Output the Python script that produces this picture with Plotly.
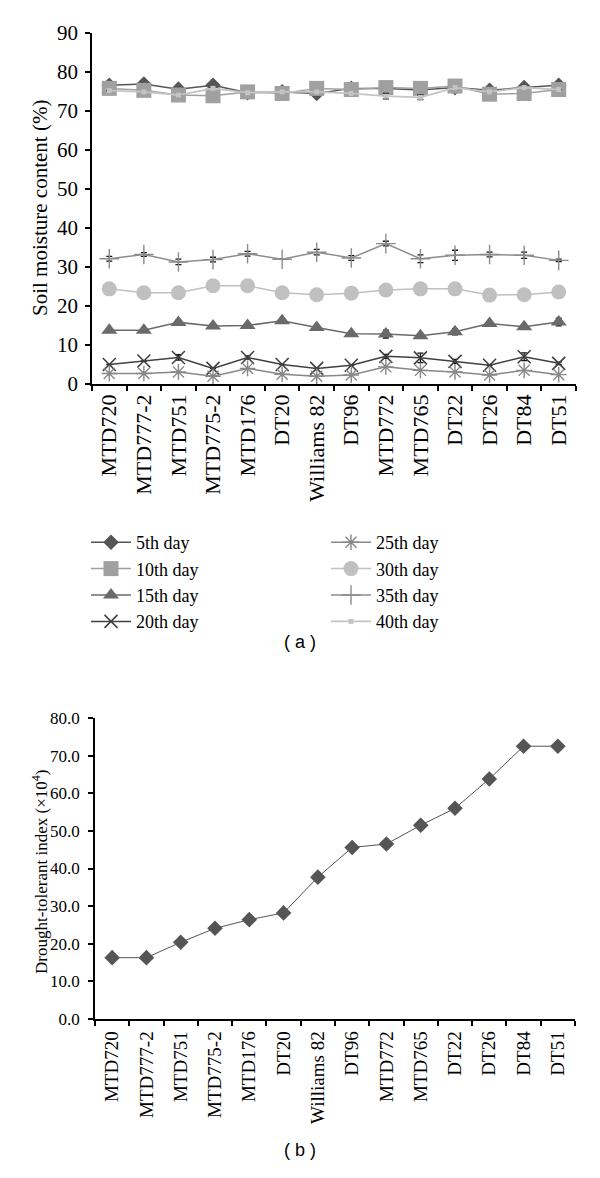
import plotly.graph_objects as go

# ---------------- data ----------------
cultivars = ["MTD720", "MTD777-2", "MTD751", "MTD775-2", "MTD176", "DT20", "Williams 82",
             "DT96", "MTD772", "MTD765", "DT22", "DT26", "DT84", "DT51"]

day5 = [76.6, 76.9, 75.6, 76.6, 74.7, 74.9, 74.5, 75.8, 75.8, 75.4, 76.0, 75.3, 76.0, 76.6]
day10 = [75.8, 75.3, 74.1, 73.9, 74.9, 74.5, 75.8, 75.5, 76.0, 75.8, 76.4, 74.3, 74.5, 75.5]
day15 = [13.8, 13.8, 15.8, 14.9, 15.0, 16.2, 14.5, 12.9, 12.8, 12.4, 13.4, 15.5, 14.7, 15.9]
day20 = [5.0, 5.9, 6.8, 4.0, 6.8, 5.0, 4.0, 4.8, 7.1, 6.7, 5.8, 4.8, 7.0, 5.3]
day25 = [2.7, 2.7, 3.1, 2.0, 4.0, 2.5, 2.0, 2.3, 4.4, 3.5, 3.1, 2.3, 3.5, 2.4]
day30 = [24.4, 23.4, 23.4, 25.2, 25.2, 23.4, 22.9, 23.3, 24.1, 24.4, 24.4, 22.8, 22.9, 23.6]
day35 = [32.1, 33.2, 31.3, 31.9, 33.4, 32.0, 33.8, 32.3, 36.0, 32.1, 33.0, 33.2, 33.0, 31.7]
day40 = [75.2, 74.9, 74.1, 75.8, 74.7, 74.9, 74.9, 74.5, 73.8, 73.5, 76.0, 74.9, 76.0, 75.5]

err5 = [0.8, 0, 0, 0, 0, 0, 0, 0.3, 0, 0.8, 0, 0, 0.5, 0.3]
err15 = [0, 0, 0.5, 0.4, 0.3, 0.4, 0, 0, 1.0, 0.4, 0.8, 0.3, 0, 1.0]
err20 = [0, 0, 0.7, 0, 0.4, 0, 0, 0, 0.5, 1.2, 0.5, 0, 1.0, 0.3]
err35 = [0.6, 0.5, 0.7, 0.6, 0.6, 0, 0.7, 0.6, 0.6, 1.0, 1.3, 0.6, 0.8, 0.3]
err40 = [0, 0, 0, 0, 0, 0, 0, 0, 0.7, 0.6, 0, 0, 0, 0]

dti = [16.3, 16.3, 20.4, 24.1, 26.4, 28.2, 37.7, 45.6, 46.5, 51.5, 56.0, 63.8, 72.5, 72.5]

series_names = ["5th day", "10th day", "15th day", "20th day",
                "25th day", "30th day", "35th day", "40th day"]
y_ticks_a = [0, 10, 20, 30, 40, 50, 60, 70, 80, 90]
y_ticks_b = [0, 10, 20, 30, 40, 50, 60, 70, 80]

# ---------------- styles ----------------
SERIF = "Liberation Serif, Tinos, Times New Roman, DejaVu Serif, serif"
styles = {
    "5th day":  dict(color="#555555", symbol="diamond", size=12, lw=1.5, mlw=0, legend="legend"),
    "10th day": dict(color="#a0a0a0", symbol="square", size=15, lw=1.5, mlw=0, legend="legend"),
    "15th day": dict(color="#6a6a6a", symbol="triangle-up", size=14, lw=1.5, mlw=0, legend="legend"),
    "20th day": dict(color="#404040", symbol="x-thin-open", size=13, lw=1.5, mlw=1.6, legend="legend"),
    "25th day": dict(color="#888888", symbol="asterisk-open", size=13, lw=1.5, mlw=1.4, legend="legend2"),
    "30th day": dict(color="#c0c0c0", symbol="circle", size=15, lw=1.5, mlw=0, legend="legend2"),
    "35th day": dict(color="#8c8c8c", symbol="cross-thin-open", size=14, lw=1.5, mlw=1.4, legend="legend2"),
    "40th day": dict(color="#c4c4c4", symbol="square", size=5, lw=1.8, mlw=0, legend="legend2"),
}
values = {"5th day": day5, "10th day": day10, "15th day": day15, "20th day": day20,
          "25th day": day25, "30th day": day30, "35th day": day35, "40th day": day40}
errors = {"5th day": err5, "15th day": err15, "20th day": err20, "35th day": err35, "40th day": err40}

fig = go.Figure()

for name in series_names:
    st = styles[name]
    err = errors.get(name)
    fig.add_trace(go.Scatter(
        x=cultivars, y=values[name], name=name, mode="lines+markers",
        line=dict(color=st["color"], width=st["lw"]),
        marker=dict(symbol=st["symbol"], size=st["size"], color=st["color"],
                    line=dict(color=st["color"], width=st["mlw"])),
        error_y=dict(type="data", array=err, visible=True, color="#111111",
                     thickness=1.3, width=3) if err else None,
        xaxis="x", yaxis="y", legend=st["legend"],
    ))

fig.add_trace(go.Scatter(
    x=cultivars, y=dti, mode="lines+markers", showlegend=False,
    line=dict(color="#555555", width=1),
    marker=dict(symbol="diamond", size=12, color="#555555"),
    xaxis="x2", yaxis="y2",
))

# page has an 8px body margin; figure coords = page coords - 8
OFF = 8
W, H = 584, 1162


def px_x(p):
    return (p - OFF) / W


def px_y(p):
    return 1 - (p - OFF) / H


axis_common = dict(showline=True, linecolor="black", linewidth=1.5, ticks="outside",
                   tickcolor="black", ticklen=5, tickwidth=1.5, showgrid=False,
                   zeroline=False, mirror=False)

fig.update_layout(
    width=W, height=H, paper_bgcolor="white", plot_bgcolor="white",
    margin=dict(l=0, r=0, t=0, b=0),
    font=dict(family=SERIF, color="black"),
    xaxis=dict(domain=[px_x(92), px_x(576)], anchor="y", type="category",
               range=[-0.5, 13.5], tickson="boundaries", tickangle=-90,
               tickfont=dict(size=22, family=SERIF), automargin=False, **axis_common),
    yaxis=dict(domain=[px_y(384), px_y(33)], anchor="x", range=[0, 90],
               tickvals=y_ticks_a, tickfont=dict(size=21, family=SERIF),
               ticklabelstandoff=3, automargin=False, **axis_common),
    xaxis2=dict(domain=[px_x(95), px_x(575)], anchor="y2", type="category",
                range=[-0.5, 13.5], tickson="boundaries", tickangle=-90,
                tickfont=dict(size=19, family=SERIF), ticklabelstandoff=3,
                automargin=False, **axis_common),
    yaxis2=dict(domain=[px_y(1019), px_y(718)], anchor="x2", range=[0, 80],
                tickvals=y_ticks_b, tickformat=".1f", tickfont=dict(size=17, family=SERIF),
                ticklabelstandoff=5, automargin=False, **axis_common),
    legend=dict(x=px_x(86), y=px_y(524), xanchor="left", yanchor="top",
                font=dict(size=18, family=SERIF), bgcolor="rgba(0,0,0,0)",
                tracegroupgap=0, itemwidth=40),
    legend2=dict(x=px_x(326), y=px_y(524), xanchor="left", yanchor="top",
                 font=dict(size=18, family=SERIF), bgcolor="rgba(0,0,0,0)",
                 tracegroupgap=0, itemwidth=40),
    annotations=[
        dict(text="Soil moisture content (%)", textangle=-90, x=px_x(40), y=px_y(208),
             xref="paper", yref="paper", showarrow=False,
             font=dict(size=21, family=SERIF), xanchor="center", yanchor="middle"),
        dict(text="Drought-tolerant index (×10<sup>4</sup>)", textangle=-90,
             x=px_x(40), y=px_y(872), xref="paper", yref="paper", showarrow=False,
             font=dict(size=17, family=SERIF), xanchor="center", yanchor="middle"),
        dict(text="( a )", x=px_x(300), y=px_y(642), xref="paper", yref="paper",
             showarrow=False, font=dict(size=18, family="Liberation Sans, Arial, sans-serif"),
             xanchor="center", yanchor="middle"),
        dict(text="( b )", x=px_x(300), y=px_y(1150), xref="paper", yref="paper",
             showarrow=False, font=dict(size=18, family="Liberation Sans, Arial, sans-serif"),
             xanchor="center", yanchor="middle"),
    ],
)

fig.write_html("out.html")
